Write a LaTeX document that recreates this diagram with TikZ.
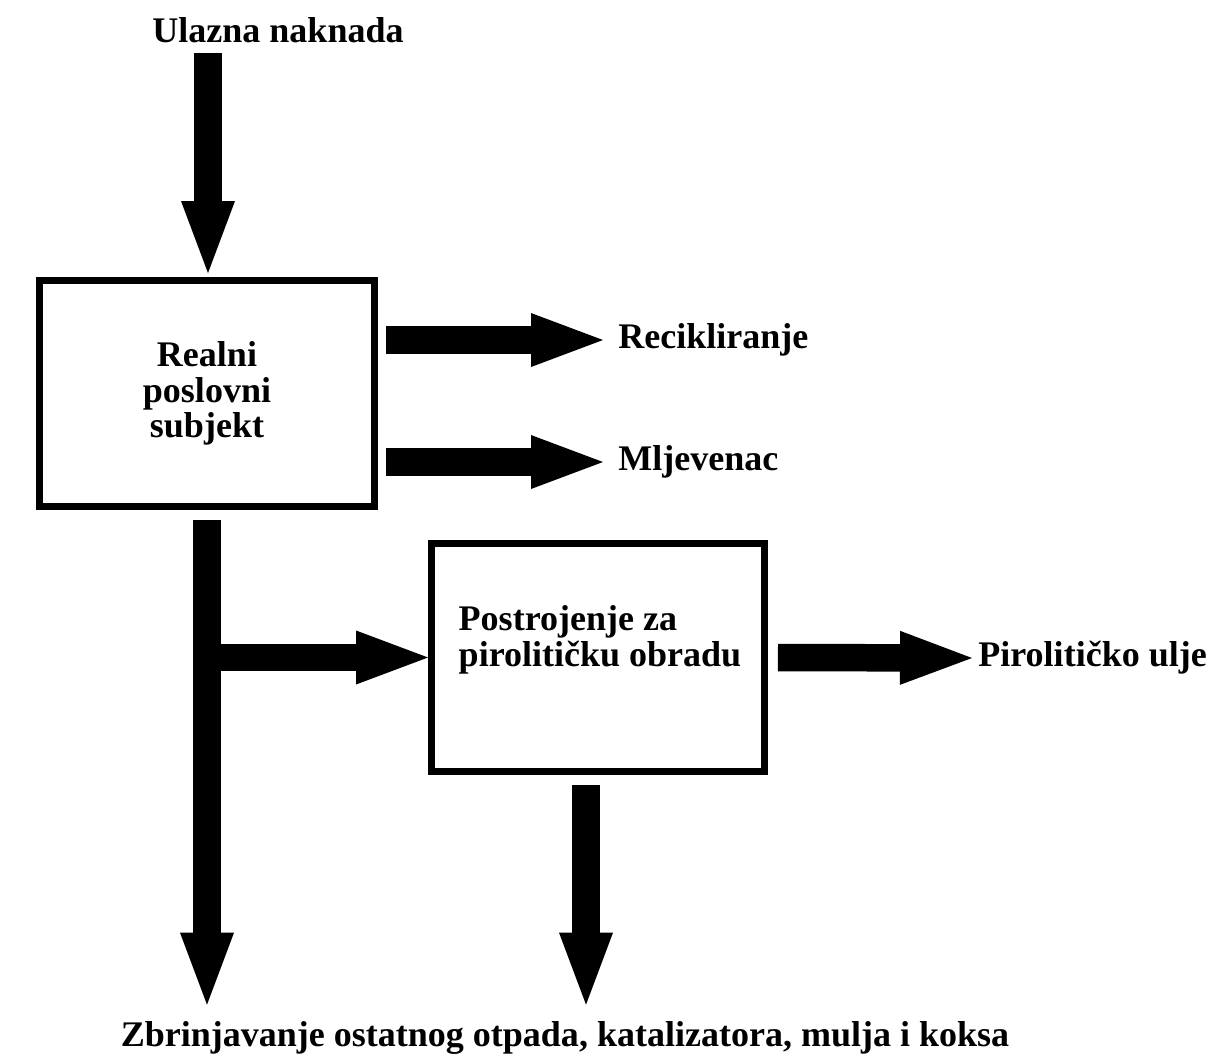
\documentclass[tikz,border=0pt]{standalone}
\usepackage{fontspec}
\setmainfont{Liberation Serif}
\usetikzlibrary{arrows.meta,positioning}
\tikzset{
    okvir/.style={draw,line width=0.14cm,minimum width=6.7cm,minimum height=4.52cm,inner sep=0pt},
    natpis/.style={draw=none,text=black,inner sep=0.12cm,font=\bfseries\fontsize{20.5pt}{20.3pt}\selectfont},
    strelica/.style={line width=0.55cm,-{Triangle[length=1.44cm,width=1.08cm,line width=0pt]}}
}
\begin{document}
\begin{tikzpicture}[x=0.02cm,y=-0.02cm]
        \useasboundingbox (0,0) rectangle (1210,1055);

        % Realni poslovni subjekt
        \node[okvir] (subjekt) at (207,393.5) {};
        \node[natpis,align=center] (subjekttekst) at (subjekt.center) {Realni\\poslovni\\subjekt};
        \node[natpis] (ulazna) at (278,30) {Ulazna naknada};
        \coordinate (ulaz) at (208,53);
        \node[natpis,anchor=west] (reciklaza) at (612,340) {Recikliranje};
        \node[natpis,anchor=west] (mljevenac) at (612,462) {Mljevenac};

        % Postrojenje za piroliticku obradu
        \node[okvir,minimum width=6.66cm,minimum height=4.56cm] (obrada) at (598,657.5) {};
        \node[natpis,align=left] (obradatekst) at (600,640) {Postrojenje za\\pirolitičku obradu};
        \node[natpis,anchor=west] (ulje) at (972,658) {Pirolitičko ulje};
        \coordinate (ostatak) at ([xshift=-0.24cm]obrada.south);

        % Zbrinjavanje
        \node[natpis,anchor=base] (zbrinjavanje) at (565,1046) {Zbrinjavanje ostatnog otpada, katalizatora, mulja i koksa};

        % strelice
        \draw[strelica,shorten >=0.08cm] (ulaz) -- (ulaz |- subjekt.north);
        \draw[strelica,shorten <=0.16cm,shorten >=0.18cm] (subjekt.east |- reciklaza.west) -- (reciklaza.west);
        \draw[strelica,shorten <=0.16cm,shorten >=0.18cm] (subjekt.east |- mljevenac.west) -- (mljevenac.west);
        \draw[strelica,shorten <=0.2cm,shorten >=0.2cm] (subjekt.south) -- (subjekt.south |- zbrinjavanje.north);
        \draw[strelica] (subjekt.south |- obrada.west) -- (obrada.west);
        \draw[strelica,shorten <=0.2cm] (obrada.east) -- (ulje.west);
        \draw[strelica,shorten <=0.2cm,shorten >=0.2cm] (ostatak) -- (ostatak |- zbrinjavanje.north);
\end{tikzpicture}
\end{document}
